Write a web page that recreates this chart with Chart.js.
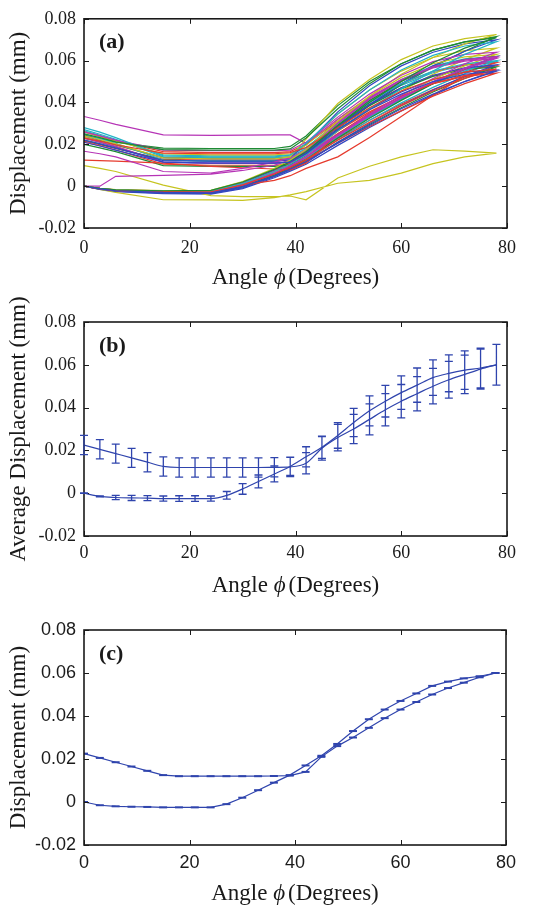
<!DOCTYPE html>
<html>
<head>
<meta charset="utf-8">
<script src="https://cdn.jsdelivr.net/npm/chart.js@4.4.1/dist/chart.umd.min.js"></script>
<style>
  html, body { margin: 0; padding: 0; background: #fff; }
  body { width: 542px; height: 907px; position: relative; overflow: hidden; }
  canvas { position: absolute; left: 0; }
</style>
</head>
<body>
<canvas id="chart-a" width="542" height="300" style="top:0px"></canvas>
<canvas id="chart-b" width="542" height="315" style="top:285px"></canvas>
<canvas id="chart-c" width="542" height="307" style="top:600px"></canvas>
<script>
// ---- axes ----
const X_TICKS = [0, 20, 40, 60, 80];
const Y_TICKS = [-0.02, 0, 0.02, 0.04, 0.06, 0.08];

// ---- panel (a): each measured loop, rising branch then returning branch ----
const LOOP_ANGLES = [0, 3, 6, 15, 24, 30, 36, 39, 42, 48, 54, 60, 66, 72, 78];

const loop01Rise   = [0, -0.0013, -0.0022, -0.0030, -0.0032, -0.0002, 0.0050, 0.0082, 0.0118, 0.0205, 0.0290, 0.0370, 0.0440, 0.0500, 0.0550];
const loop01Return = [0.0210, 0.0192, 0.0172, 0.0115, 0.0110, 0.0110, 0.0110, 0.0115, 0.0155, 0.0270, 0.0365, 0.0440, 0.0500, 0.0535, 0.0550];
const loop02Rise   = [0, -0.0010, -0.0018, -0.0022, -0.0020, 0.0020, 0.0080, 0.0118, 0.0165, 0.0290, 0.0400, 0.0500, 0.0590, 0.0660, 0.0710];
const loop02Return = [0.0250, 0.0232, 0.0212, 0.0175, 0.0172, 0.0172, 0.0172, 0.0178, 0.0230, 0.0370, 0.0490, 0.0585, 0.0650, 0.0690, 0.0710];
const loop03Rise   = [0, -0.0012, -0.0020, -0.0026, -0.0027, 0.0006, 0.0058, 0.0090, 0.0128, 0.0220, 0.0305, 0.0385, 0.0455, 0.0515, 0.0560];
const loop03Return = [0.0230, 0.0215, 0.0198, 0.0158, 0.0155, 0.0155, 0.0155, 0.0160, 0.0185, 0.0280, 0.0375, 0.0455, 0.0510, 0.0545, 0.0560];
const loop04Rise   = [0, -0.0011, -0.0019, -0.0025, -0.0025, 0.0012, 0.0070, 0.0105, 0.0150, 0.0265, 0.0370, 0.0465, 0.0550, 0.0630, 0.0690];
const loop04Return = [0.0280, 0.0258, 0.0232, 0.0145, 0.0140, 0.0140, 0.0140, 0.0148, 0.0205, 0.0345, 0.0460, 0.0555, 0.0625, 0.0670, 0.0690];
const loop05Rise   = [0, -0.0012, -0.0021, -0.0028, -0.0029, 0.0005, 0.0060, 0.0095, 0.0140, 0.0245, 0.0345, 0.0435, 0.0515, 0.0585, 0.0640];
const loop05Return = [0.0260, 0.0240, 0.0220, 0.0172, 0.0170, 0.0170, 0.0170, 0.0172, 0.0210, 0.0330, 0.0440, 0.0530, 0.0595, 0.0630, 0.0640];
const loop06Rise   = [0, -0.0010, -0.0017, -0.0021, -0.0020, 0.0022, 0.0085, 0.0125, 0.0175, 0.0310, 0.0430, 0.0535, 0.0615, 0.0680, 0.0725];
const loop06Return = [0.0240, 0.0222, 0.0202, 0.0135, 0.0130, 0.0130, 0.0130, 0.0140, 0.0225, 0.0395, 0.0510, 0.0605, 0.0670, 0.0705, 0.0725];
const loop07Rise   = [0, -0.0014, -0.0024, -0.0033, -0.0035, -0.0008, 0.0045, 0.0078, 0.0112, 0.0210, 0.0300, 0.0385, 0.0460, 0.0525, 0.0580];
const loop07Return = [0.0220, 0.0202, 0.0182, 0.0122, 0.0120, 0.0120, 0.0120, 0.0125, 0.0160, 0.0285, 0.0390, 0.0470, 0.0530, 0.0565, 0.0580];
const loop08Rise   = [0, -0.0012, -0.0022, -0.0030, -0.0031, -0.0001, 0.0052, 0.0088, 0.0128, 0.0230, 0.0325, 0.0410, 0.0490, 0.0560, 0.0620];
const loop08Return = [0.0200, 0.0183, 0.0165, 0.0098, 0.0095, 0.0095, 0.0095, 0.0102, 0.0150, 0.0290, 0.0410, 0.0500, 0.0570, 0.0605, 0.0620];
const loop09Rise   = [0, -0.0013, -0.0021, -0.0028, -0.0029, 0.0004, 0.0056, 0.0088, 0.0122, 0.0205, 0.0285, 0.0360, 0.0430, 0.0490, 0.0540];
const loop09Return = [0.0210, 0.0193, 0.0173, 0.0105, 0.0100, 0.0100, 0.0100, 0.0105, 0.0150, 0.0265, 0.0355, 0.0430, 0.0490, 0.0525, 0.0540];
const loop10Rise   = [0, -0.0012, -0.0020, -0.0026, -0.0027, 0.0008, 0.0062, 0.0095, 0.0135, 0.0235, 0.0330, 0.0415, 0.0490, 0.0550, 0.0600];
const loop10Return = [0.0250, 0.0228, 0.0205, 0.0125, 0.0120, 0.0120, 0.0120, 0.0127, 0.0175, 0.0300, 0.0405, 0.0490, 0.0550, 0.0585, 0.0600];
const loop11Rise   = [0, -0.0011, -0.0019, -0.0024, -0.0024, 0.0014, 0.0072, 0.0108, 0.0150, 0.0250, 0.0340, 0.0420, 0.0495, 0.0555, 0.0610];
const loop11Return = [0.0230, 0.0210, 0.0190, 0.0115, 0.0110, 0.0110, 0.0110, 0.0118, 0.0170, 0.0305, 0.0420, 0.0505, 0.0565, 0.0598, 0.0610];
const loop12Rise   = [0, -0.0012, -0.0020, -0.0025, -0.0025, 0.0010, 0.0066, 0.0100, 0.0142, 0.0248, 0.0345, 0.0432, 0.0510, 0.0575, 0.0630];
const loop12Return = [0.0260, 0.0238, 0.0215, 0.0155, 0.0150, 0.0150, 0.0150, 0.0155, 0.0195, 0.0320, 0.0430, 0.0520, 0.0585, 0.0618, 0.0630];
const loop13Rise   = [0, -0.0011, -0.0019, -0.0024, -0.0023, 0.0016, 0.0076, 0.0114, 0.0160, 0.0280, 0.0390, 0.0490, 0.0575, 0.0645, 0.0700];
const loop13Return = [0.0240, 0.0220, 0.0198, 0.0135, 0.0130, 0.0130, 0.0130, 0.0137, 0.0200, 0.0355, 0.0480, 0.0575, 0.0640, 0.0680, 0.0700];
const loop14Rise   = [0, -0.0014, -0.0023, -0.0031, -0.0033, -0.0004, 0.0048, 0.0080, 0.0116, 0.0210, 0.0295, 0.0375, 0.0450, 0.0515, 0.0570];
const loop14Return = [0.0220, 0.0202, 0.0182, 0.0125, 0.0120, 0.0120, 0.0120, 0.0126, 0.0168, 0.0285, 0.0385, 0.0465, 0.0525, 0.0558, 0.0570];
const loop15Rise   = [0, -0.0011, -0.0018, -0.0023, -0.0022, 0.0018, 0.0075, 0.0110, 0.0150, 0.0250, 0.0340, 0.0420, 0.0490, 0.0545, 0.0590];
const loop15Return = [0.0260, 0.0238, 0.0216, 0.0165, 0.0160, 0.0160, 0.0160, 0.0165, 0.0200, 0.0310, 0.0410, 0.0490, 0.0548, 0.0580, 0.0590];
const loop16Rise   = [0, -0.0013, -0.0022, -0.0029, -0.0030, 0.0002, 0.0055, 0.0090, 0.0130, 0.0235, 0.0330, 0.0415, 0.0495, 0.0565, 0.0620];
const loop16Return = [0.0270, 0.0248, 0.0224, 0.0140, 0.0135, 0.0135, 0.0135, 0.0140, 0.0180, 0.0310, 0.0420, 0.0510, 0.0575, 0.0608, 0.0620];
const loop17Rise   = [0, -0.0012, -0.0020, -0.0026, -0.0026, 0.0010, 0.0068, 0.0105, 0.0150, 0.0275, 0.0385, 0.0485, 0.0570, 0.0645, 0.0715];
const loop17Return = [0.0245, 0.0228, 0.0210, 0.0182, 0.0180, 0.0180, 0.0180, 0.0190, 0.0240, 0.0385, 0.0500, 0.0585, 0.0650, 0.0690, 0.0715];
const loop18Rise   = [0, -0.0015, -0.0026, -0.0036, -0.0038, -0.0012, 0.0040, 0.0072, 0.0105, 0.0195, 0.0280, 0.0360, 0.0435, 0.0500, 0.0555];
const loop18Return = [0.0230, 0.0210, 0.0188, 0.0115, 0.0110, 0.0110, 0.0110, 0.0116, 0.0155, 0.0270, 0.0370, 0.0450, 0.0510, 0.0545, 0.0555];
const loop19Rise   = [0, -0.0011, -0.0019, -0.0025, -0.0026, 0.0011, 0.0068, 0.0104, 0.0148, 0.0262, 0.0365, 0.0455, 0.0535, 0.0605, 0.0660];
const loop19Return = [0.0235, 0.0215, 0.0195, 0.0138, 0.0135, 0.0135, 0.0135, 0.0142, 0.0198, 0.0345, 0.0460, 0.0550, 0.0615, 0.0648, 0.0660];
const loop20Rise   = [0, -0.0013, -0.0023, -0.0031, -0.0033, -0.0003, 0.0050, 0.0084, 0.0122, 0.0222, 0.0315, 0.0398, 0.0472, 0.0538, 0.0595];
const loop20Return = [0.0265, 0.0243, 0.0220, 0.0150, 0.0145, 0.0145, 0.0145, 0.0150, 0.0185, 0.0300, 0.0400, 0.0482, 0.0542, 0.0578, 0.0595];
const loop21Rise   = [0, -0.0012, -0.0021, -0.0027, -0.0028, 0.0007, 0.0060, 0.0093, 0.0132, 0.0228, 0.0315, 0.0392, 0.0462, 0.0522, 0.0575];
const loop21Return = [0.0215, 0.0198, 0.0180, 0.0128, 0.0125, 0.0125, 0.0125, 0.0130, 0.0172, 0.0292, 0.0392, 0.0470, 0.0528, 0.0562, 0.0575];
// odd ones out
const highRise     = [0, -0.0012, -0.0020, -0.0026, -0.0027, 0.0008, 0.0062, 0.0098, 0.0140, 0.0240, 0.0335, 0.0420, 0.0495, 0.0560, 0.0615];
const highReturn   = [0.0333, 0.0315, 0.0295, 0.0245, 0.0243, 0.0244, 0.0245, 0.0245, 0.0205, 0.0320, 0.0425, 0.0510, 0.0570, 0.0603, 0.0615];
const lowRise      = [0, -0.0015, -0.0030, -0.0065, -0.0066, -0.0068, -0.0055, -0.0042, -0.0026, 0.0014, 0.0028, 0.0062, 0.0108, 0.0140, 0.0158];
const lowReturn    = [0.0098, 0.0085, 0.0070, 0.0005, -0.0045, -0.0050, -0.0050, -0.0047, -0.0065, 0.0039, 0.0095, 0.0140, 0.0174, 0.0167, 0.0158];
const lateRise     = [0, -0.0012, -0.0020, -0.0025, -0.0024, 0.0005, 0.0028, 0.0050, 0.0085, 0.0140, 0.0233, 0.0333, 0.0434, 0.0527, 0.0550];
const lateReturn   = [0.0124, 0.0122, 0.0120, 0.0110, 0.0095, 0.0088, 0.0082, 0.0078, 0.0110, 0.0250, 0.0350, 0.0430, 0.0490, 0.0530, 0.0550];
const bumpRise     = [0, 0.0000, 0.0047, 0.0052, 0.0058, 0.0075, 0.0100, 0.0125, 0.0150, 0.0245, 0.0340, 0.0425, 0.0500, 0.0565, 0.0620];
const bumpReturn   = [0.0167, 0.0155, 0.0140, 0.0070, 0.0063, 0.0085, 0.0115, 0.0135, 0.0175, 0.0300, 0.0415, 0.0505, 0.0570, 0.0605, 0.0620];

const BLUE = '#3347c2', GREEN = '#1e8a34', RED = '#e63b2e', CYAN = '#22b3c6', MAGENTA = '#b634b6', YELLOW = '#c6c420';

const LOOPS = [
    [loop01Rise, loop01Return, BLUE], [loop02Rise, loop02Return, GREEN], [loop03Rise, loop03Return, RED],
    [loop04Rise, loop04Return, CYAN], [loop05Rise, loop05Return, MAGENTA], [loop06Rise, loop06Return, YELLOW],
    [bumpRise, bumpReturn, MAGENTA], [lateRise, lateReturn, RED], [highRise, highReturn, MAGENTA],
    [loop07Rise, loop07Return, BLUE], [loop08Rise, loop08Return, GREEN], [loop09Rise, loop09Return, RED],
    [loop10Rise, loop10Return, CYAN], [loop11Rise, loop11Return, MAGENTA], [loop12Rise, loop12Return, YELLOW],
    [lowRise, lowReturn, YELLOW],
    [loop13Rise, loop13Return, BLUE], [loop14Rise, loop14Return, GREEN], [loop15Rise, loop15Return, RED],
    [loop16Rise, loop16Return, CYAN], [loop17Rise, loop17Return, GREEN], [loop18Rise, loop18Return, BLUE],
    [loop19Rise, loop19Return, YELLOW], [loop20Rise, loop20Return, CYAN], [loop21Rise, loop21Return, RED]
];

// ---- panels (b) and (c): averaged branches, one point every 3 degrees ----
const STEP_ANGLES = [0, 3, 6, 9, 12, 15, 18, 21, 24, 27, 30, 33, 36, 39, 42, 45, 48, 51, 54, 57, 60, 63, 66, 69, 72, 75, 78];
const meanReturn = [0.0225, 0.0205, 0.0185, 0.0165, 0.0145, 0.0125, 0.0120, 0.0120, 0.0120, 0.0120, 0.0120, 0.0120, 0.0121, 0.0123, 0.0140, 0.0210, 0.0260, 0.0300, 0.0345, 0.0390, 0.0430, 0.0465, 0.0500, 0.0530, 0.0555, 0.0580, 0.0600];
const meanRise   = [0, -0.0015, -0.0020, -0.0022, -0.0023, -0.0025, -0.0025, -0.0025, -0.0025, -0.0010, 0.0020, 0.0055, 0.0090, 0.0125, 0.0170, 0.0215, 0.0270, 0.0330, 0.0385, 0.0430, 0.0470, 0.0505, 0.0540, 0.0560, 0.0575, 0.0585, 0.0600];
const errReturn  = [0.0045, 0.0045, 0.0044, 0.0044, 0.0045, 0.0045, 0.0045, 0.0045, 0.0045, 0.0045, 0.0045, 0.0045, 0.0045, 0.0045, 0.0050, 0.0055, 0.0062, 0.0068, 0.0072, 0.0075, 0.0078, 0.0080, 0.0083, 0.0086, 0.0090, 0.0093, 0.0095];
const errRise    = [0.0001, 0.0002, 0.0010, 0.0012, 0.0012, 0.0012, 0.0013, 0.0013, 0.0012, 0.0018, 0.0025, 0.0030, 0.0037, 0.0042, 0.0047, 0.0052, 0.0060, 0.0066, 0.0070, 0.0074, 0.0078, 0.0080, 0.0083, 0.0086, 0.0090, 0.0093, 0.0095];

const MEAN_COLOR = '#2f44ad';
const SERIF = '"Liberation Serif", "Times New Roman", serif';
const SANS = '"Liberation Sans", Arial, sans-serif';
const INK = '#1a1a1a';

function loopPoints(rise, ret) {
    const pts = LOOP_ANGLES.map((a, i) => ({ x: a, y: rise[i] }));
    for (let i = LOOP_ANGLES.length - 1; i >= 0; i--) pts.push({ x: LOOP_ANGLES[i], y: ret[i] });
    return pts;
}

function stepPoints(values) {
    return STEP_ANGLES.map((a, i) => ({ x: a, y: values[i] }));
}

function fmtTick(v) {
    if (Math.abs(v) < 1e-9) return '0';
    return String(Number(v.toFixed(2)));
}

// inward tick marks on all four sides plus the box
const frameTicks = {
    id: 'frameTicks',
    afterDatasetsDraw(chart) {
        const { ctx, chartArea: a, scales: { x, y } } = chart;
        ctx.save();
        ctx.strokeStyle = INK;
        ctx.lineWidth = 1;
        ctx.beginPath();
        x.ticks.forEach(t => {
            const px = Math.round(x.getPixelForValue(t.value)) + 0.5;
            ctx.moveTo(px, a.bottom); ctx.lineTo(px, a.bottom - 5);
            ctx.moveTo(px, a.top); ctx.lineTo(px, a.top + 5);
        });
        y.ticks.forEach(t => {
            const py = Math.round(y.getPixelForValue(t.value)) + 0.5;
            ctx.moveTo(a.left, py); ctx.lineTo(a.left + 5, py);
            ctx.moveTo(a.right, py); ctx.lineTo(a.right - 5, py);
        });
        ctx.stroke();
        ctx.lineWidth = 1.6;
        ctx.strokeRect(a.left, a.top, a.right - a.left, a.bottom - a.top);
        ctx.restore();
    }
};

function labelsPlugin(tag, yTitle, xTitleY) {
    return {
        id: 'panelLabels',
        afterDraw(chart) {
            const { ctx, chartArea: a } = chart;
            ctx.save();
            ctx.fillStyle = INK;
            ctx.textBaseline = 'middle';
            ctx.textAlign = 'left';
            ctx.font = `bold 22px ${SERIF}`;
            ctx.fillText(tag, a.left + 15, a.top + 24);

            // x title with italic phi
            const regular = `23px ${SERIF}`, italic = `italic 23px ${SERIF}`;
            const parts = [['Angle ', regular, 0], ['\u03D5', italic, 3], ['(Degrees)', regular, 0]];
            let total = 0;
            parts.forEach(p => { ctx.font = p[1]; total += ctx.measureText(p[0]).width + p[2]; });
            let cx = (a.left + a.right) / 2 - total / 2;
            parts.forEach(p => {
                ctx.font = p[1];
                ctx.fillText(p[0], cx, xTitleY);
                cx += ctx.measureText(p[0]).width + p[2];
            });

            // y title
            ctx.font = regular;
            ctx.textAlign = 'center';
            ctx.translate(19, (a.top + a.bottom) / 2);
            ctx.rotate(-Math.PI / 2);
            ctx.fillText(yTitle, 0, 0);
            ctx.restore();
        }
    };
}

function errorBarsPlugin(sets) {
    return {
        id: 'errorBars',
        afterDatasetsDraw(chart) {
            const { ctx, scales: { x, y } } = chart;
            ctx.save();
            ctx.strokeStyle = MEAN_COLOR;
            ctx.lineWidth = 1.3;
            ctx.beginPath();
            sets.forEach(([mean, err]) => {
                mean.forEach((m, i) => {
                    const px = x.getPixelForValue(STEP_ANGLES[i]);
                    const top = y.getPixelForValue(m + err[i]);
                    const bot = y.getPixelForValue(m - err[i]);
                    ctx.moveTo(px, top); ctx.lineTo(px, bot);
                    ctx.moveTo(px - 4, top); ctx.lineTo(px + 4, top);
                    ctx.moveTo(px - 4, bot); ctx.lineTo(px + 4, bot);
                });
            });
            ctx.stroke();
            ctx.restore();
        }
    };
}

function makePanel(id, cfg) {
    return new Chart(document.getElementById(id), {
        type: 'line',
        data: { datasets: cfg.datasets },
        options: {
            responsive: false,
            animation: false,
            devicePixelRatio: 1,
            layout: { padding: { top: cfg.padTop, right: cfg.padRight, bottom: 0, left: 0 } },
            plugins: { legend: { display: false }, tooltip: { enabled: false } },
            scales: {
                x: {
                    type: 'linear', min: 0, max: 80,
                    afterBuildTicks: s => { s.ticks = X_TICKS.map(v => ({ value: v })); },
                    afterFit: s => { s.height = cfg.xHeight; },
                    grid: { display: false, drawTicks: false },
                    border: { display: false },
                    ticks: { color: INK, font: { family: cfg.tickFont, size: 18 }, padding: cfg.xPad, maxRotation: 0, autoSkip: false }
                },
                y: {
                    type: 'linear', min: -0.02, max: 0.08,
                    afterBuildTicks: s => { s.ticks = Y_TICKS.map(v => ({ value: v })); },
                    afterFit: s => { s.width = 84; },
                    grid: { display: false, drawTicks: false },
                    border: { display: false },
                    ticks: { color: INK, font: { family: cfg.tickFont, size: 18 }, padding: 8, callback: fmtTick }
                }
            }
        },
        plugins: [frameTicks, labelsPlugin(cfg.tag, cfg.yTitle, cfg.xTitleY)].concat(cfg.extra || [])
    });
}

makePanel('chart-a', {
    tag: '(a)', yTitle: 'Displacement (mm)', xTitleY: 278,
    padTop: 13, padRight: 35, xHeight: 72, xPad: 9, tickFont: SERIF,
    datasets: LOOPS.map(([rise, ret, color]) => ({
        data: loopPoints(rise, ret),
        borderColor: color, borderWidth: 1.2, pointRadius: 0, tension: 0, fill: false
    }))
});

makePanel('chart-b', {
    tag: '(b)', yTitle: 'Average Displacement (mm)', xTitleY: 301,
    padTop: 37, padRight: 35, xHeight: 64, xPad: 6, tickFont: SERIF,
    datasets: [meanReturn, meanRise].map(v => ({
        data: stepPoints(v),
        borderColor: MEAN_COLOR, borderWidth: 1.2, pointRadius: 0,
        cubicInterpolationMode: 'monotone', fill: false
    })),
    extra: [errorBarsPlugin([[meanReturn, errReturn], [meanRise, errRise]])]
});

makePanel('chart-c', {
    tag: '(c)', yTitle: 'Displacement (mm)', xTitleY: 294,
    padTop: 30, padRight: 36, xHeight: 62, xPad: 7, tickFont: SANS,
    datasets: [meanReturn, meanRise].map(v => ({
        data: stepPoints(v),
        borderColor: MEAN_COLOR, borderWidth: 1.2, tension: 0, fill: false,
        pointStyle: 'line', pointRadius: 4, pointBorderWidth: 2, pointBorderColor: MEAN_COLOR
    }))
});
</script>
</body>
</html>
